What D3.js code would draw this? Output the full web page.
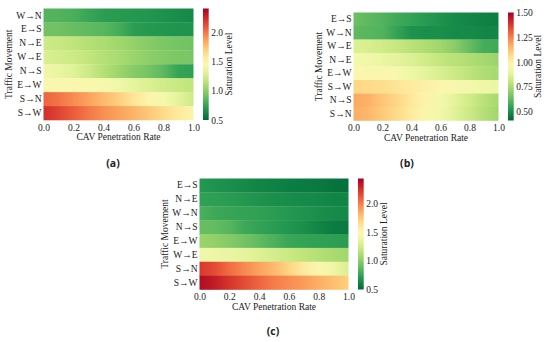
<!DOCTYPE html>
<html>
<head>
<meta charset="utf-8">
<script src="https://cdn.jsdelivr.net/npm/d3@7/dist/d3.min.js"></script>
<style>
  body { margin: 0; background: #fff; }
  svg text { font-family: "Liberation Serif", "Times New Roman", serif; fill: #222; }
</style>
</head>
<body>
<svg id="chart" width="550" height="342"></svg>
<script>
// CAV penetration rates (columns) and axis ticks
const cavRates = [0.0, 0.1, 0.2, 0.3, 0.4, 0.5, 0.6, 0.7, 0.8, 0.9, 1.0];
const xTicks = [0.0, 0.2, 0.4, 0.6, 0.8, 1.0];

// Panel (a)
const movementsA = ['W→N', 'E→S', 'N→E', 'W→E', 'N→S', 'E→W', 'S→N', 'S→W'];
const saturationA = [
    [0.84, 0.83, 0.81, 0.76, 0.72, 0.71, 0.70, 0.69, 0.67, 0.65, 0.63],
    [0.92, 0.91, 0.89, 0.87, 0.85, 0.80, 0.72, 0.70, 0.69, 0.68, 0.68],
    [1.22, 1.20, 1.17, 1.13, 1.10, 1.06, 1.02, 0.98, 0.95, 0.93, 0.92],
    [1.27, 1.25, 1.22, 1.18, 1.13, 1.09, 1.04, 1.00, 0.97, 0.95, 0.94],
    [1.38, 1.35, 1.30, 1.22, 1.13, 1.05, 0.98, 0.93, 0.86, 0.75, 0.74],
    [1.45, 1.46, 1.47, 1.46, 1.43, 1.38, 1.33, 1.28, 1.24, 1.20, 1.17],
    [2.05, 2.00, 1.93, 1.86, 1.78, 1.70, 1.60, 1.50, 1.42, 1.32, 1.22],
    [2.22, 2.15, 2.07, 1.99, 1.92, 1.86, 1.80, 1.73, 1.65, 1.57, 1.50]
];
const colorDomainA = [0.5, 2.4];
const colorTicksA = [0.5, 1.0, 1.5, 2.0];

// Panel (b)
const movementsB = ['E→S', 'W→N', 'W→E', 'N→E', 'E→W', 'S→W', 'N→S', 'S→N'];
const saturationB = [
    [0.64, 0.62, 0.60, 0.57, 0.55, 0.53, 0.51, 0.49, 0.48, 0.47, 0.46],
    [0.62, 0.61, 0.60, 0.55, 0.51, 0.50, 0.50, 0.49, 0.49, 0.48, 0.48],
    [0.86, 0.85, 0.83, 0.81, 0.78, 0.76, 0.73, 0.69, 0.63, 0.58, 0.57],
    [0.93, 0.92, 0.90, 0.88, 0.86, 0.83, 0.80, 0.78, 0.76, 0.74, 0.72],
    [0.96, 0.97, 0.97, 0.94, 0.91, 0.88, 0.85, 0.82, 0.79, 0.76, 0.74],
    [1.08, 1.07, 1.06, 1.04, 1.02, 1.00, 0.97, 0.95, 0.93, 0.91, 0.90],
    [1.18, 1.16, 1.12, 1.08, 1.03, 0.98, 0.93, 0.88, 0.83, 0.78, 0.74],
    [1.17, 1.15, 1.11, 1.07, 1.02, 0.97, 0.92, 0.87, 0.82, 0.77, 0.73]
];
const colorDomainB = [0.41, 1.5];
const colorTicksB = [0.50, 0.75, 1.00, 1.25, 1.50];

// Panel (c)
const movementsC = ['E→S', 'N→E', 'W→N', 'N→S', 'E→W', 'W→E', 'S→N', 'S→W'];
const saturationC = [
    [0.70, 0.68, 0.66, 0.64, 0.62, 0.60, 0.59, 0.58, 0.57, 0.55, 0.53],
    [0.74, 0.73, 0.72, 0.70, 0.68, 0.66, 0.65, 0.64, 0.63, 0.62, 0.61],
    [0.82, 0.78, 0.76, 0.75, 0.74, 0.72, 0.70, 0.68, 0.66, 0.64, 0.63],
    [0.90, 0.89, 0.85, 0.78, 0.75, 0.72, 0.69, 0.66, 0.62, 0.58, 0.57],
    [1.05, 1.02, 0.98, 0.93, 0.88, 0.82, 0.77, 0.75, 0.74, 0.73, 0.72],
    [1.40, 1.38, 1.36, 1.34, 1.30, 1.26, 1.22, 1.18, 1.14, 1.10, 1.07],
    [2.22, 2.15, 2.05, 1.96, 1.88, 1.80, 1.70, 1.58, 1.48, 1.38, 1.28],
    [2.38, 2.32, 2.23, 2.15, 2.07, 2.00, 1.95, 1.90, 1.84, 1.78, 1.72]
];
const colorDomainC = [0.5, 2.43];
const colorTicksC = [0.5, 1.0, 1.5, 2.0];

// Layout of the three panels (pixel positions only)
const panels = [
    {id: 'a', rows: movementsA, values: saturationA, domain: colorDomainA, ticks: colorTicksA, fmt: '.1f',
     left: 43.5, top: 8.5, width: 150, height: 111.5, cbLeft: 203, cbLabelOff: 20, letterX: 113, letterY: 163},
    {id: 'b', rows: movementsB, values: saturationB, domain: colorDomainB, ticks: colorTicksB, fmt: '.2f',
     left: 353.5, top: 12.5, width: 145, height: 108, cbLeft: 508, cbLabelOff: 24, letterX: 407, letterY: 163},
    {id: 'c', rows: movementsC, values: saturationC, domain: colorDomainC, ticks: colorTicksC, fmt: '.1f',
     left: 199.5, top: 178.5, width: 149, height: 111, cbLeft: 358, cbLabelOff: 20, letterX: 273, letterY: 331}
];

const serif = '"Liberation Serif", "Times New Roman", serif';
const svg = d3.select('#chart');
const defs = svg.append('defs');

function styleAxis(ax) {
    ax.select('.domain').remove();
    ax.attr('font-family', serif).attr('font-size', 9.5);
    ax.selectAll('text').style('font-size', '9.5px').style('fill', '#222').style('font-family', serif);
}

function drawPanel(p) {
    const g = svg.append('g').attr('transform', `translate(${p.left},${p.top})`);

    const x = d3.scaleLinear().domain([0, 1]).range([0, p.width]);
    const y = d3.scaleBand().domain(p.rows).range([0, p.height]);
    const color = d3.scaleSequential(t => d3.interpolateRdYlGn(1 - t)).domain(p.domain);

    // one gradient per row, stops at each penetration rate
    p.rows.forEach((row, i) => {
        const grad = defs.append('linearGradient')
            .attr('id', `grad-${p.id}-${i}`)
            .attr('x1', '0%').attr('x2', '100%').attr('y1', '0%').attr('y2', '0%');
        grad.selectAll('stop')
            .data(cavRates)
            .enter().append('stop')
            .attr('offset', d => (x(d) / p.width * 100) + '%')
            .attr('stop-color', (d, j) => color(p.values[i][j]));
    });

    g.selectAll('.row')
        .data(p.rows)
        .enter().append('rect')
        .attr('x', 0)
        .attr('y', d => y(d))
        .attr('width', p.width)
        .attr('height', y.bandwidth() + 0.3)
        .attr('fill', (d, i) => `url(#grad-${p.id}-${i})`);

    // x axis
    const xAxis = g.append('g')
        .attr('transform', `translate(0,${p.height})`)
        .call(d3.axisBottom(x).tickValues(xTicks).tickFormat(d3.format('.1f')).tickSize(0).tickPadding(4));
    styleAxis(xAxis);

    // y axis
    const yAxis = g.append('g')
        .call(d3.axisLeft(y).tickSize(0).tickPadding(2));
    styleAxis(yAxis);

    g.append('text')
        .attr('x', p.width / 2)
        .attr('y', p.height + 20)
        .attr('text-anchor', 'middle')
        .style('font-size', '9.5px')
        .text('CAV Penetration Rate');

    g.append('text')
        .attr('transform', `translate(-35,${p.height / 2}) rotate(-90)`)
        .attr('text-anchor', 'middle')
        .attr('dy', '0.35em')
        .style('font-size', '9.5px')
        .text('Traffic Movement');

    // colorbar
    const cbW = 5.7;
    const cbX = p.cbLeft - p.left;
    const cy = d3.scaleLinear().domain(p.domain).range([p.height, 0]);
    const cbGrad = defs.append('linearGradient')
        .attr('id', `cb-${p.id}`)
        .attr('x1', '0%').attr('x2', '0%').attr('y1', '100%').attr('y2', '0%');
    cbGrad.selectAll('stop')
        .data(d3.range(0, 1.0001, 0.05))
        .enter().append('stop')
        .attr('offset', d => (d * 100) + '%')
        .attr('stop-color', d => d3.interpolateRdYlGn(1 - d));

    g.append('rect')
        .attr('x', cbX).attr('y', 0)
        .attr('width', cbW).attr('height', p.height)
        .attr('fill', `url(#cb-${p.id})`);

    const cAxis = g.append('g')
        .attr('transform', `translate(${cbX + cbW},0)`)
        .call(d3.axisRight(cy).tickValues(p.ticks).tickFormat(d3.format(p.fmt)).tickSize(0).tickPadding(2.5));
    styleAxis(cAxis);

    g.append('text')
        .attr('transform', `translate(${cbX + cbW + p.cbLabelOff},${p.height / 2}) rotate(-90)`)
        .attr('text-anchor', 'middle')
        .attr('dy', '0.35em')
        .style('font-size', '9.5px')
        .text('Saturation Level');

    // panel letter
    svg.append('text')
        .attr('x', p.letterX)
        .attr('y', p.letterY)
        .attr('text-anchor', 'middle')
        .attr('dy', '0.35em')
        .style('font-family', '"Open Sans", "Noto Sans", sans-serif')
        .style('font-weight', '700')
        .style('font-size', '10.5px')
        .text(`(${p.id})`);
}

panels.forEach(drawPanel);
</script>
</body>
</html>
